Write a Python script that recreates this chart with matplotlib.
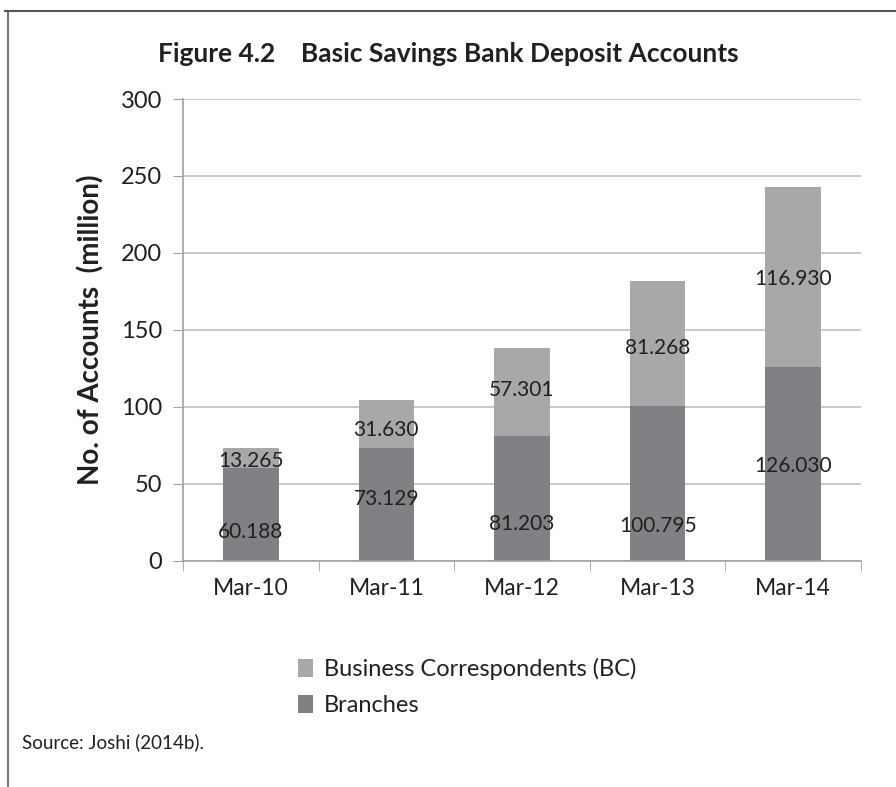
import matplotlib
matplotlib.use("Agg")
import matplotlib.pyplot as plt
from matplotlib.lines import Line2D
import numpy as np

plt.rcParams["font.family"] = ["Lato", "DejaVu Sans"]

# 账户数（百万）
periods = ["Mar-10", "Mar-11", "Mar-12", "Mar-13", "Mar-14"]
branches = [60.188, 73.129, 81.203, 100.795, 126.030]
bc = [13.265, 31.630, 57.301, 81.268, 116.930]
y_ticks = [0, 50, 100, 150, 200, 250, 300]

# 数据标签的纵向位置（数据单位）
branch_label_y = [18.5, 40, 24, 23, 62]
bc_label_y = [65, 85, 111, 138, 183]

c_bc = "#a7a8aa"
c_br = "#808184"
c_text = "#231f20"

fig = plt.figure(figsize=(8.96, 7.87), dpi=100)
ax = fig.add_axes([0.2042, 0.2872, 0.7568, 0.587])

x = np.arange(len(periods))
w = 0.41
b1 = ax.bar(x, branches, w, color=c_br, label="Branches", zorder=2)
b2 = ax.bar(x, bc, w, bottom=branches, color=c_bc, label="Business Correspondents (BC)", zorder=2)

for i in range(len(periods)):
    ax.text(x[i], branch_label_y[i], f"{branches[i]:.3f}", ha="center", va="center",
            fontsize=15, color=c_text, zorder=3)
    ax.text(x[i], bc_label_y[i], f"{bc[i]:.3f}", ha="center", va="center",
            fontsize=15, color=c_text, zorder=3)

ax.set_xlim(-0.5, len(periods) - 0.5)
ax.set_ylim(0, 300)
ax.set_yticks(y_ticks)
ax.set_xticks(x)
ax.set_xticklabels(periods)
ax.set_xticks(np.arange(len(periods) + 1) - 0.5, minor=True)
ax.tick_params(axis="x", which="major", length=0, pad=12, labelsize=16.5, labelcolor=c_text)
ax.tick_params(axis="x", which="minor", length=7, color="#a0a0a0", direction="out")
ax.tick_params(axis="y", length=7, color="#a0a0a0", pad=8, labelsize=17, labelcolor=c_text)

ax.grid(axis="y", color="#c0c0c0", linewidth=1.2, zorder=0)
ax.set_axisbelow(True)
for s in ["top", "right"]:
    ax.spines[s].set_visible(False)
for s in ["left", "bottom"]:
    ax.spines[s].set_color("#a0a0a0")
    ax.spines[s].set_linewidth(1.2)

ax.set_ylabel("No. of Accounts  (million)", fontsize=20, fontweight="bold",
              color=c_text, labelpad=12)

fig.text(0.5, 0.932, "Figure 4.2    Basic Savings Bank Deposit Accounts",
         ha="center", va="center", fontsize=19, fontweight="bold", color=c_text,
         family=["Liberation Sans Narrow", "Lato", "DejaVu Sans"])

handles = [b2, b1]
fig.legend(handles, [h.get_label() for h in handles], loc="center left",
           bbox_to_anchor=(0.333, 0.127), frameon=False, fontsize=17,
           handlelength=0.6, handleheight=0.8, handletextpad=0.5,
           labelspacing=0.65, labelcolor=c_text, borderpad=0, borderaxespad=0)

fig.text(0.025, 0.057, "Source: Joshi (2014b).", ha="left", va="center", fontsize=13.5,
         color=c_text, family=["Liberation Sans Narrow", "Lato", "DejaVu Sans"])

# 外框线：顶部和左侧
fig.add_artist(Line2D([0.006, 1.0], [0.986, 0.986], transform=fig.transFigure,
                      color="#555555", linewidth=1.5))
fig.add_artist(Line2D([0.009, 0.009], [0.0, 0.986], transform=fig.transFigure,
                      color="#555555", linewidth=1.2))

fig.savefig("out.png", dpi=100)
